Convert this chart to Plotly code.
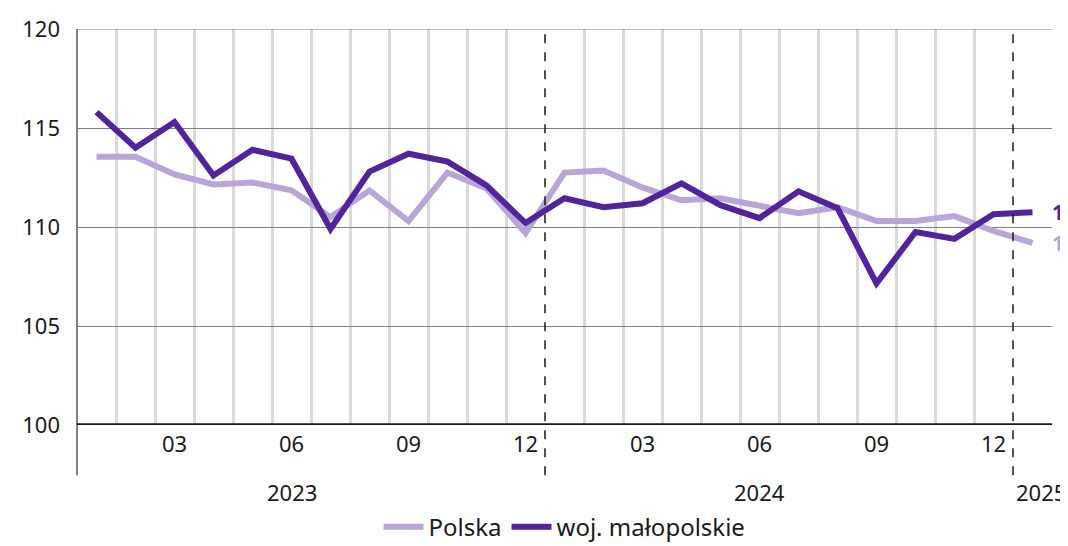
import plotly.graph_objects as go

months = ["2023-01","2023-02","2023-03","2023-04","2023-05","2023-06","2023-07","2023-08","2023-09","2023-10","2023-11","2023-12",
          "2024-01","2024-02","2024-03","2024-04","2024-05","2024-06","2024-07","2024-08","2024-09","2024-10","2024-11","2024-12",
          "2025-01"]
polska = [113.55, 113.55, 112.65, 112.15, 112.25, 111.85, 110.5, 111.85, 110.3, 112.75, 111.95, 109.7,
          112.75, 112.85, 112.0, 111.35, 111.45, 111.1, 110.7, 111.0, 110.3, 110.3, 110.55, 109.8, 109.2]
malopolskie = [115.8, 114.0, 115.3, 112.6, 113.9, 113.45, 109.9, 112.8, 113.7, 113.3, 112.1, 110.2,
               111.45, 111.0, 111.2, 112.2, 111.1, 110.45, 111.8, 110.95, 107.15, 109.75, 109.4, 110.65, 110.75]
end_labels = ["109,2", "110,8"]
month_ticks = ["03", "06", "09", "12"]
years = ["2023", "2024", "2025"]
yticks = [100, 105, 110, 115, 120]

C_LIGHT = "#b8a6d8"
C_DARK = "#51249b"
FONT = "Noto Sans"
TXT = "#1a1a1a"

x = list(range(len(months)))

fig = go.Figure()
fig.add_trace(go.Scatter(x=x, y=polska, mode="lines", name="Polska",
                         line=dict(color=C_LIGHT, width=6), cliponaxis=False))
fig.add_trace(go.Scatter(x=x, y=malopolskie, mode="lines", name="woj. małopolskie",
                         line=dict(color=C_DARK, width=6), cliponaxis=False))

tickvals, ticktext = [], []
for i, m in enumerate(months):
    mm = m.split("-")[1]
    if mm in month_ticks:
        tickvals.append(i)
        ticktext.append(mm)

year_bounds = [i - 0.5 for i, m in enumerate(months) if m.endswith("-01") and i > 0]
minor_vals = [i + 0.5 for i in range(len(months) - 1) if (i + 0.5) not in year_bounds]

fig.update_xaxes(range=[-0.5, len(months) - 0.5], tickvals=tickvals, ticktext=ticktext,
                 showgrid=False, zeroline=False, showline=False, ticks="",
                 tickfont=dict(family=FONT, size=22, color=TXT), ticklabelstandoff=4,
                 minor=dict(tickvals=minor_vals, showgrid=True, gridcolor="#dadada", gridwidth=2.5, ticks=""))
fig.update_yaxes(range=[100, 120], tickvals=yticks, showgrid=True, gridcolor="#808080", gridwidth=1,
                 zeroline=False, showline=False, ticks="",
                 tickfont=dict(family=FONT, size=22, color=TXT), ticklabelstandoff=16)

shapes = []
shapes.append(dict(type="line", xref="paper", yref="paper", x0=0, x1=0, y0=-0.127, y1=1,
                   line=dict(color="#808080", width=2)))
shapes.append(dict(type="line", xref="paper", yref="y", x0=0, x1=1, y0=120, y1=120,
                   line=dict(color="#808080", width=1)))
for b in year_bounds:
    shapes.append(dict(type="line", xref="x", yref="paper", x0=b, x1=b, y0=-0.127, y1=1,
                       line=dict(color="#1a1a1a", width=1.5, dash="dash")))
shapes.append(dict(type="line", xref="paper", yref="y", x0=0, x1=1, y0=100, y1=100,
                   line=dict(color="#1a1a1a", width=3.5)))
fig.update_layout(shapes=shapes)

annotations = []
for yr in years:
    idx = [i for i, m in enumerate(months) if m.startswith(yr)]
    pos = idx[min(5, len(idx) - 1)]
    annotations.append(dict(x=pos, y=-0.17, xref="x", yref="paper", text=yr, showarrow=False,
                            xanchor="center", yanchor="middle", xshift=8 if len(idx) == 1 else 0,
                            font=dict(family=FONT, size=22, color=TXT)))
for series, lab, col in [(polska, end_labels[0], C_LIGHT), (malopolskie, end_labels[1], C_DARK)]:
    annotations.append(dict(x=1, y=series[-1], xref="paper", yref="y", text=f"<b>{lab}</b>",
                            showarrow=False, xanchor="left", yanchor="middle", xshift=-2,
                            font=dict(family=FONT, size=21, color=col)))
fig.update_layout(annotations=annotations)

# page body has an 8px margin: size the figure so it fills the 1068x546 window
fig.update_layout(
    width=1060, height=538,
    margin=dict(l=69, r=16, t=21, b=121, autoexpand=False),
    plot_bgcolor="white", paper_bgcolor="white",
    showlegend=True,
    legend=dict(orientation="h", x=0.5, xanchor="center", y=-0.258, yanchor="middle",
                font=dict(family=FONT, size=24, color=TXT), itemwidth=40, tracegroupgap=0),
)

fig.write_html("out.html")
